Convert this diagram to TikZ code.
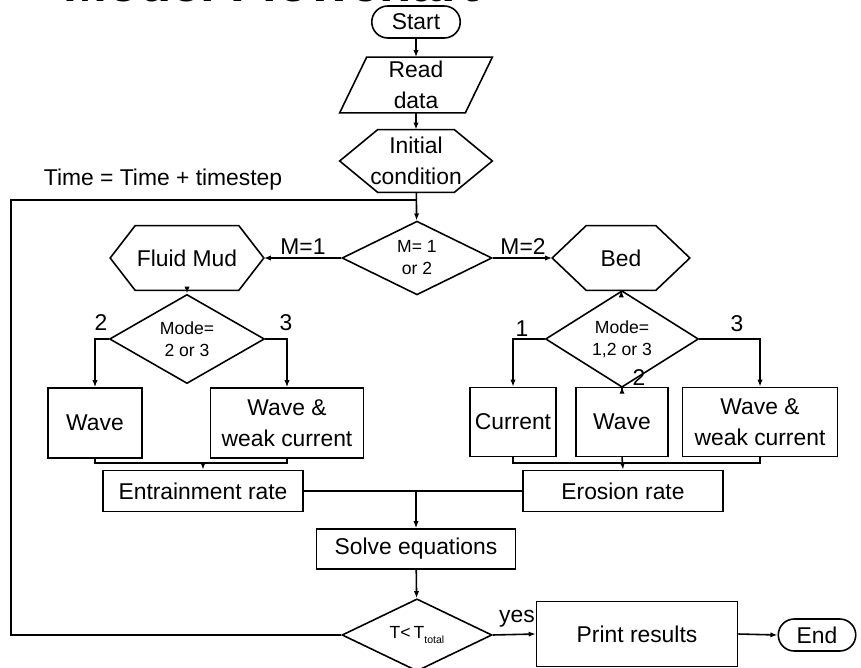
\documentclass[tikz,border=0pt]{standalone}
\usepackage{fontspec}
\setmainfont{Liberation Sans}
\usetikzlibrary{shapes.geometric,shapes.misc,arrows.meta}

\tikzset{
	txt/.style={font=\fontsize{13}{17.5}\selectfont,align=center,inner sep=1pt},
	small/.style={font=\fontsize{10}{12.5}\selectfont,align=center,inner sep=0pt},
	box/.style={txt,draw,line width=0.9pt,rectangle},
	term/.style={txt,draw,line width=0.9pt,rounded rectangle,minimum height=0.64cm},
	frame/.style={txt,rectangle},		%outline drawn by \hexline or \paraline
	choice/.style={small,draw,line width=0.9pt,diamond,minimum height=1.27cm},
	link/.style={line width=0.9pt},
	flow/.style={link,-{Latex[length=4pt,width=3pt]}}
}

%six-sided outline round a node: #1 node, #2 slant
\newcommand\hexline[2]{\draw[link] (#1.west) -- ([xshift=#2]#1.north west) -- ([xshift=-#2]#1.north east) -- (#1.east) -- ([xshift=-#2]#1.south east) -- ([xshift=#2]#1.south west) -- cycle;}
%slanted outline round a node: #1 node, #2 slant
\newcommand\paraline[2]{\draw[link] (#1.south west) -- ([xshift=-#2]#1.south east) -- (#1.north east) -- ([xshift=#2]#1.north west) -- cycle;}

\begin{document}
\begin{tikzpicture}[x=0.02cm,y=-0.02cm]
	\useasboundingbox (0,0) rectangle (861,668);
	
	%title, cut by the page edge
	\node[anchor=base west,inner sep=0pt,font=\bfseries\fontsize{30}{30}\selectfont] (title) at (63,2) {Model Flowchart};
	
	%main column
	\node[term,minimum width=1.84cm] (start) at (416,22) {Start};
	\node[frame,minimum width=3.04cm,minimum height=1.1cm] (read) at (416,85) {Read\\data};
		\paraline{read}{0.54cm}
	\node[frame,minimum width=3.04cm,minimum height=1.24cm] (init) at (416,161) {Initial\\condition};
		\hexline{init}{0.76cm}
	\node[choice,minimum width=3cm] (mm) at (417,258) {M= 1\\or 2};
	
	%fluid mud branch
	\node[frame,minimum width=3.06cm,minimum height=1.28cm] (mud) at (187,258) {Fluid Mud};
		\hexline{mud}{0.5cm}
	\node[choice,minimum width=3.1cm,minimum height=1.3cm] (mode1) at (187,339) {Mode=\\2 or 3};
	\node[box,minimum width=1.88cm,minimum height=1.4cm] (wave1) at (95,423) {Wave};
	\node[box,minimum width=3.06cm,minimum height=1.4cm] (weak1) at (287,423) {Wave \&\\weak current};
	\node[box,minimum width=4cm,minimum height=0.82cm] (entr) at (203,491) {Entrainment rate};
	
	%bed branch
	\node[frame,minimum width=2.74cm,minimum height=1.28cm] (bed) at (621,258) {Bed};
		\hexline{bed}{0.68cm}
	\node[choice,minimum width=3.06cm,minimum height=1.28cm] (mode2) at (622,339) {Mode=\\1,2 or 3};
	\node[box,minimum width=1.72cm,minimum height=1.38cm] (curr) at (513,422) {Current};
	\node[box,minimum width=1.84cm,minimum height=1.38cm] (wave2) at (622,422) {Wave};
	\node[box,minimum width=3.1cm,minimum height=1.38cm] (weak2) at (760,422) {Wave \&\\weak current};
	\node[box,minimum width=4cm,minimum height=0.82cm] (eros) at (623,491) {Erosion rate};
	
	%bottom
	\node[box,minimum width=3.98cm,minimum height=0.8cm] (solve) at (416,549) {Solve equations};
	\node[choice,minimum width=3cm,minimum height=1.28cm] (tt) at (417,635) {T<\,T\raisebox{-0.6ex}{\fontsize{6}{7}\selectfont total}};
	\node[box,minimum width=4.02cm,minimum height=1.3cm] (print) at (637,634) {Print results};
	\node[term,minimum width=1.62cm] (end) at (817,635) {End};
	
	%labels
	\node[txt] (lm1) at (303,247) {M=1};
	\node[txt] (lm2) at (523,247) {M=2};
	\node[txt] (l2a) at (101,323) {2};
	\node[txt] (l3a) at (286,323) {3};
	\node[txt] (l1b) at (522,329) {1};
	\node[txt] (l2b) at (639,378) {2};
	\node[txt] (l3b) at (737,324) {3};
	\node[txt] (lyes) at (517,619) {yes};
	\node[txt] (ltime) at (163,180) {Time = Time + timestep};
	
	%connectors, main column
	\draw[flow] (start) -- (read);
	\draw[flow] (read) -- (init);
	\draw[flow] (init) -- (mm);
	\draw[flow] (mm.west) -- (mud.east);
	\draw[flow] (mm.east) -- (bed.west);
	
	%fluid mud
	\draw[flow] (mud) -- (mode1);
	\draw[flow] (mode1.west) -| (wave1.north);
	\draw[flow] (mode1.east) -| (weak1.north);
	\coordinate (jl) at (203,463);
	\draw[link] (wave1.south) |- (jl) -| (weak1.south);
	\draw[flow] (jl) -- (entr.north);
	
	%bed
	\draw[flow] (bed) -- (mode2);
	\draw[flow] (mode2.west) -| (curr.north);
	\draw[flow] (mode2.south) -- (wave2.north);
	\draw[flow] (mode2.east) -| (weak2.north);
	\coordinate (jr) at (622,463);
	\draw[link] (curr.south) |- (jr) -| (weak2.south);
	\draw[flow] (wave2.south) -- (eros.north);
	
	%rates to solver
	\draw[link] (entr.east) -- (eros.west);
	\coordinate (js) at (416,491);
	\draw[flow] (js) -- (solve.north);
	\draw[flow] (solve) -- (tt);
	\draw[flow] (tt.east) -- (print.west);
	\draw[flow] (print.east) -- (end.west);
	
	%time loop
	\coordinate (lt) at (11,200);
	\draw[link] (tt.west) -| (lt) -- (lt -| init.south);
\end{tikzpicture}
\end{document}
